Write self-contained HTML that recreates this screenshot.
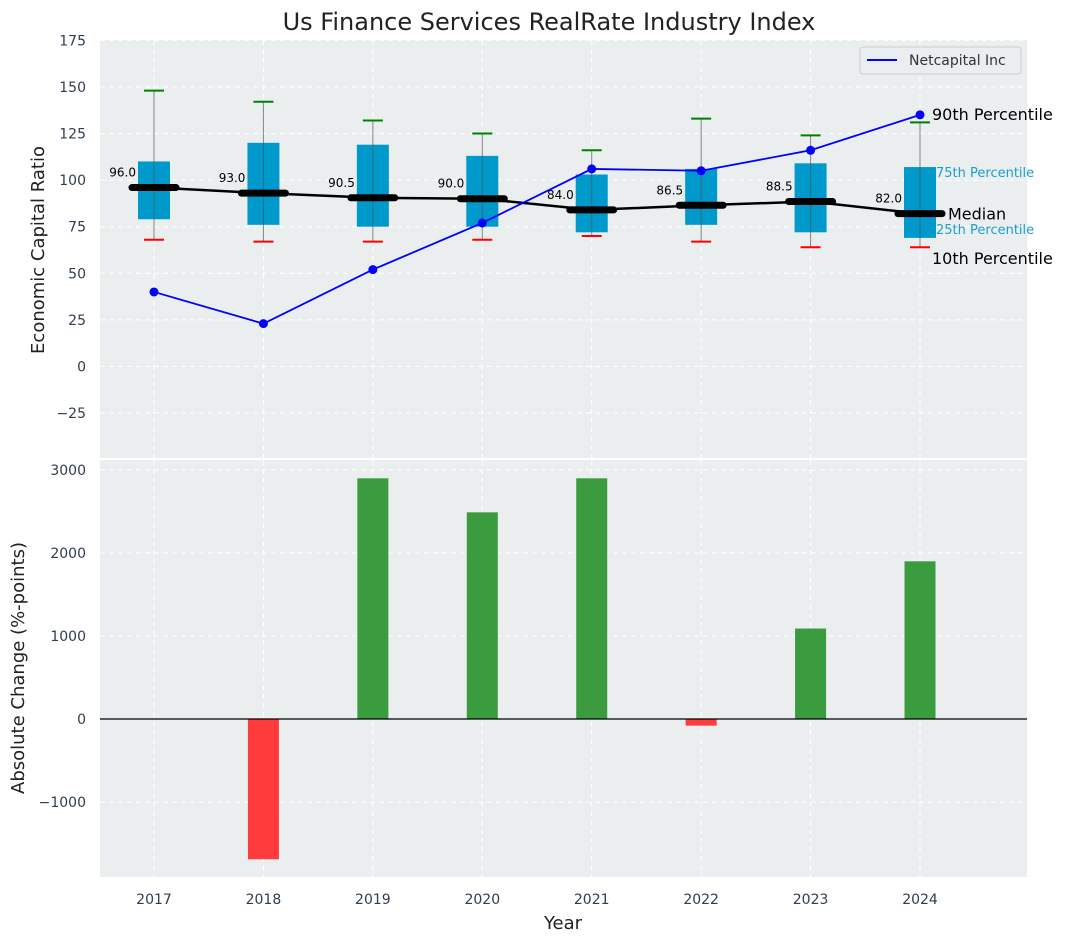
<!DOCTYPE html>
<html><head><meta charset="utf-8"><style>
body{margin:0;background:#fff;font-family:"Liberation Sans","DejaVu Sans",sans-serif;}
svg text{font-family:"DejaVu Sans","Liberation Sans",sans-serif;}
</style></head><body>
<svg id="c" width="1067" height="942" xmlns="http://www.w3.org/2000/svg"></svg>
<script>
const years=[2017,2018,2019,2020,2021,2022,2023,2024];
const q1=[79,76,75,75,72,76,72,69];
const q3=[110,120,119,113,103,106,109,107];
const wLow=[68,67,67,68,70,67,64,64];
const wHigh=[148,142,132,125,116,133,124,131];
const medians=[96,93,90.5,90,84,86.5,88.5,82];
const netcap=[40,23,52,77,106,105,116,135];
const changes=[0,-1690,2900,2490,2900,-80,1090,1900];
const topTicks=[-25,0,25,50,75,100,125,150,175];
const botTicks=[-1000,0,1000,2000,3000];

const svg=document.getElementById('c');
const NS='http://www.w3.org/2000/svg';
function el(t,a,txt){const e=document.createElementNS(NS,t);for(const k in a)e.setAttribute(k,a[k]);if(txt!==undefined)e.textContent=txt;svg.appendChild(e);return e;}
const L=100,R=1027;
const x=v=>154+(v-2017)*109.43;
const yT=v=>366.5-v*1.864;
const yB=v=>719-v*0.083;
const T0=40,T1=458,B0=460,B1=877;

let e;
e=el('rect',{x:L,y:T0,width:R-L,height:T1-T0,fill:'#eaeeef'});

e=el('rect',{x:L,y:B0,width:R-L,height:B1-B0,fill:'#eaeeef'});

years.forEach(v=>{
 el('line',{x1:x(v),x2:x(v),y1:T0,y2:T1,stroke:'#fff','stroke-dasharray':'5,4','stroke-width':1});
 el('line',{x1:x(v),x2:x(v),y1:B0,y2:B1,stroke:'#fff','stroke-dasharray':'5,4','stroke-width':1});
 e=el('text',{x:x(v),y:904,'text-anchor':'middle','font-size':14,fill:'#2e3e50'},v);
 
});
topTicks.forEach(v=>{
 el('line',{x1:L,x2:R,y1:yT(v),y2:yT(v),stroke:'#fff','stroke-dasharray':'5,4'});
 e=el('text',{x:86,y:yT(v)+5,'text-anchor':'end','font-size':14,fill:'#2e3e50'},v<0?'\u2212'+(-v):v);
 
});
botTicks.forEach(v=>{
 el('line',{x1:L,x2:R,y1:yB(v),y2:yB(v),stroke:'#fff','stroke-dasharray':'5,4'});
 e=el('text',{x:86,y:yB(v)+5,'text-anchor':'end','font-size':14,fill:'#2e3e50'},v<0?'\u2212'+(-v):v);
 
});
years.forEach((v,i)=>{
 const cx=x(v);
 e=el('rect',{x:cx-16,y:yT(q3[i]),width:32,height:yT(q1[i])-yT(q3[i]),fill:'#0099cc'});
 
 el('line',{x1:cx,x2:cx,y1:yT(wHigh[i]),y2:yT(wLow[i]),stroke:'#555','stroke-width':1,opacity:0.7});
 el('line',{x1:cx-10,x2:cx+10,y1:yT(wHigh[i]),y2:yT(wHigh[i]),stroke:'green','stroke-width':2});
 el('line',{x1:cx-10,x2:cx+10,y1:yT(wLow[i]),y2:yT(wLow[i]),stroke:'red','stroke-width':2});
});
e=el('polyline',{points:years.map((v,i)=>x(v)+','+yT(medians[i])).join(' '),fill:'none',stroke:'#000','stroke-width':2.5});

years.forEach((v,i)=>{
 e=el('line',{x1:x(v)-22,x2:x(v)+22,y1:yT(medians[i]),y2:yT(medians[i]),stroke:'#000','stroke-width':7,'stroke-linecap':'round'});
 
 e=el('text',{x:x(v)-18,y:yT(medians[i])-11,'text-anchor':'end','font-size':12,fill:'#000'},medians[i].toFixed(1));
 
});
e=el('polyline',{points:years.map((v,i)=>x(v)+','+yT(netcap[i])).join(' '),fill:'none',stroke:'blue','stroke-width':1.8});

years.forEach((v,i)=>{
 e=el('circle',{cx:x(v),cy:yT(netcap[i]),r:4.5,fill:'blue'});
 
});
const lx=x(2024);
const ann=[['90th Percentile',lx+12,yT(netcap[7])+5,16,'#000'],['75th Percentile',lx+16,yT(q3[7])+10,13,'#1a9fd0'],['Median',lx+28,yT(medians[7])+6,16,'#000'],['25th Percentile',lx+16,yT(q1[7])-4,13,'#1a9fd0'],['10th Percentile',lx+12,yT(wLow[7])+17,16,'#000']];
ann.forEach(a=>{e=el('text',{x:a[1],y:a[2],'font-size':a[3],fill:a[4]},a[0]);});
e=el('rect',{x:860,y:47,width:161,height:27,rx:3,fill:'#eaeef0',stroke:'#ccc'});

el('line',{x1:867,x2:897,y1:60,y2:60,stroke:'blue','stroke-width':2});
e=el('text',{x:909,y:65,'font-size':14,fill:'#333'},'Netcapital Inc');

years.forEach((v,i)=>{
 const c=changes[i];const y0=yB(Math.max(c,0)),y1=yB(Math.min(c,0));
 e=el('rect',{x:x(v)-15.5,y:y0,width:31,height:y1-y0,fill:c>=0?'#3a9c3e':'#ff3b3b'});
 
});
el('line',{x1:L,x2:R,y1:yB(0),y2:yB(0),stroke:'#000','stroke-width':1.2});
e=el('text',{x:549,y:30,'text-anchor':'middle','font-size':24,fill:'#222'},'Us Finance Services RealRate Industry Index');

e=el('text',{x:0,y:0,'text-anchor':'middle','font-size':18,fill:'#222',transform:'translate(44,250) rotate(-90)'},'Economic Capital Ratio');

e=el('text',{x:0,y:0,'text-anchor':'middle','font-size':18,fill:'#222',transform:'translate(24,668) rotate(-90)'},'Absolute Change (%-points)');

e=el('text',{x:563,y:929,'text-anchor':'middle','font-size':18,fill:'#222'},'Year');

</script>
</body></html>
